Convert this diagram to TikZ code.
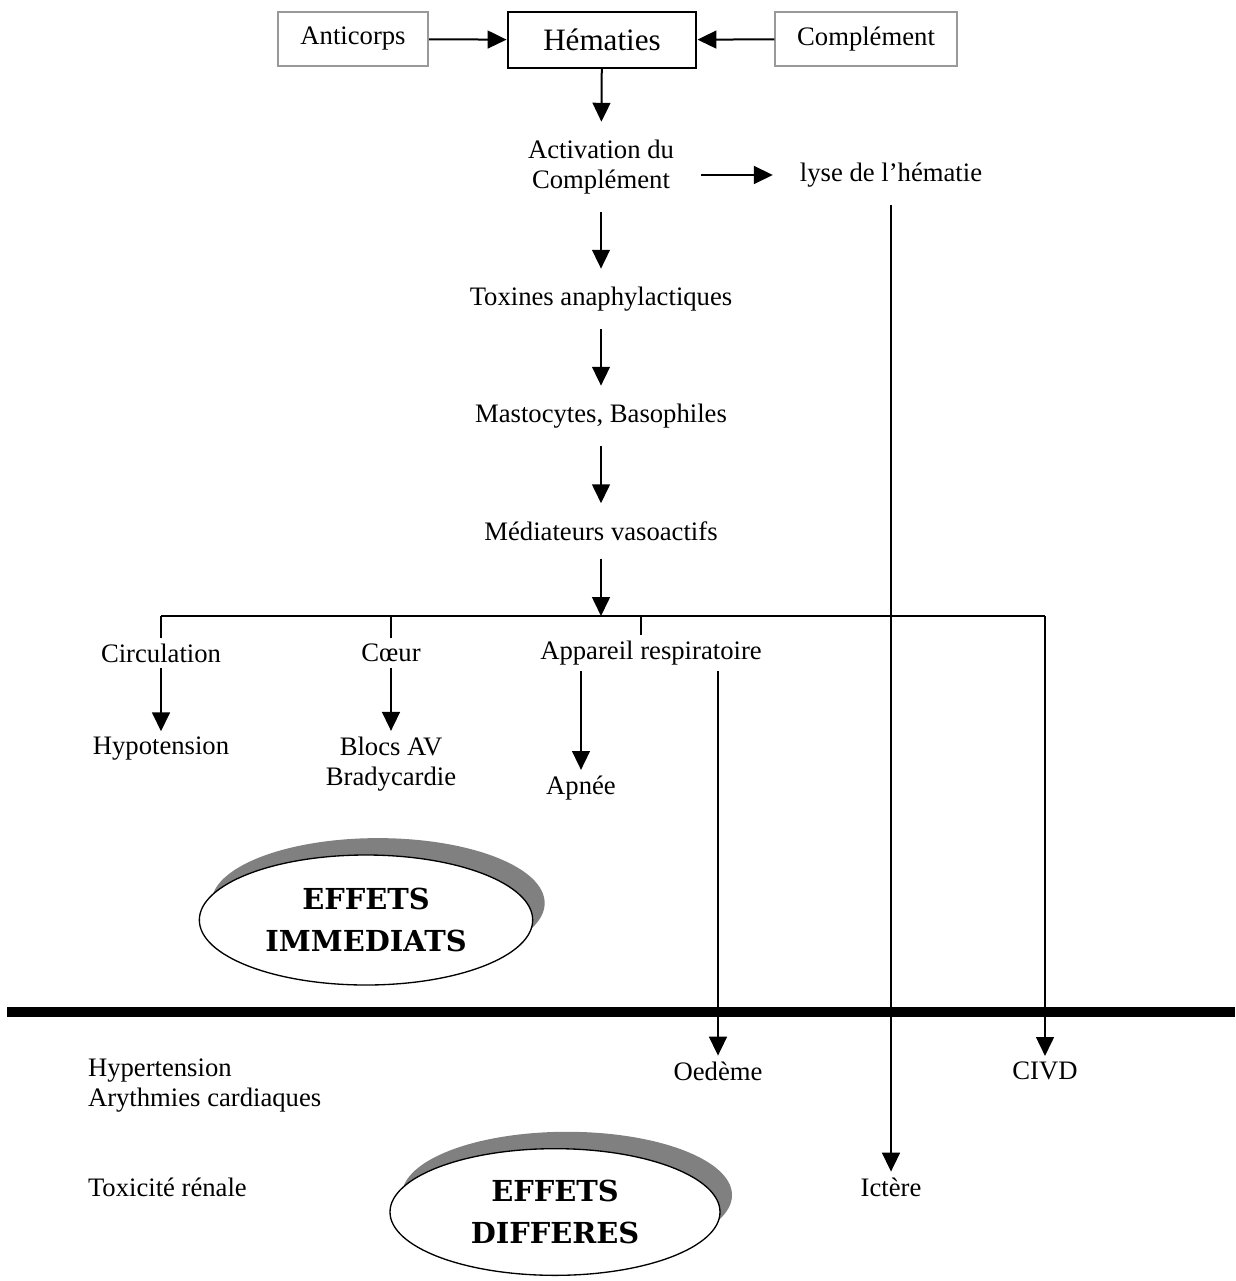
\documentclass[tikz,border=0pt]{standalone}
\usepackage{fontspec}
\setmainfont{Liberation Serif}
\newfontfamily\effetsfont{DejaVu Serif}
\usetikzlibrary{arrows.meta,shapes.geometric,shadows}
\tikzset{
  every node/.style={font=\fontsize{12}{13.5}\selectfont},
  flow/.style={inner xsep=12pt,inner ysep=8pt,align=center},
  organ/.style={inner sep=2.5pt,align=center},
  graybox/.style={draw=black!40,line width=0.9pt,minimum height=24.3pt},
  arr/.style={-{Triangle[length=8.5pt,width=8pt]},line width=0.9pt},
  effets/.style={ellipse,draw,fill=white,line width=0.6pt,align=center,
    font=\effetsfont\bfseries\fontsize{13}{18.5}\selectfont,
    drop shadow={shadow xshift=5.4pt,shadow yshift=7.6pt,fill=black!50,opacity=1}}
}
\begin{document}
\begin{tikzpicture}[line cap=butt,line join=miter,x=0.45pt,y=-0.45pt]
\useasboundingbox (0,0) rectangle (1235,1281);
\node[graybox,minimum width=67.5pt] (anti) at (353,39) {Anticorps};
\node[draw,line width=0.9pt,minimum width=85pt,minimum height=25.2pt,font=\fontsize{14}{16}\selectfont] (hem) at (602,40) {Hématies};
\node[graybox,minimum width=81.5pt] (compl) at (866,39) {Complément};
\node[flow] (act) at (601,167) {Activation du\\Complément};
\node[flow] (lyse) at (891,175) {lyse de l’hématie};
\node[flow] (tox) at (601,299) {Toxines anaphylactiques};
\node[flow] (masto) at (601,416) {Mastocytes, Basophiles};
\node[flow] (medi) at (601,531) {Médiateurs vasoactifs};
\coordinate (split) at (601,616);
\coordinate (rtick) at (641,616);
\node[organ] (circ) at (161,653) {Circulation};
\node[organ] (coeur) at (391,653) {Cœur};
\node[organ] (resp) at (651,653) {Appareil respiratoire};
\node[organ] (hypo) at (161,749) {Hypotension};
\node[organ] (blocs) at (391,764) {Blocs AV\\Bradycardie};
\node[organ] (apnee) at (581,788) {Apnée};
\node[effets,minimum width=150pt,minimum height=58.5pt] (imm) at (366,920) {EFFETS\\IMMEDIATS};
\coordinate (sepL) at (7,1012);
\coordinate (sepR) at (1235,1012);
\node[organ,anchor=west,align=left] (hyper) at (82,1086) {Hypertension\\Arythmies cardiaques};
\node[organ,anchor=west] (toxr) at (82,1187) {Toxicité rénale};
\node[organ] (oed) at (718,1071) {Oedème};
\node[organ] (civd) at (1045,1071) {CIVD};
\node[organ] (icter) at (891,1187) {Ictère};
\node[effets,minimum width=148.5pt,minimum height=57pt] (diff) at (555,1212) {EFFETS\\DIFFERES};
\draw[arr] (anti) -- (hem);
\draw[arr] (compl) -- (hem);
\draw[arr] (hem) -- (act);
\draw[arr] (lyse.west -| act.east) -- (lyse.west);
\draw[arr] (act) -- (tox);
\draw[arr] (tox) -- (masto);
\draw[arr] (masto) -- (medi);
\draw[arr] (medi) -- (split);
\draw[line width=0.9pt] (split -| circ) -- (split -| civd);
\draw[line width=0.9pt] (split -| circ) -- (circ);
\draw[line width=0.9pt] (split -| coeur) -- (coeur);
\draw[line width=0.9pt] (rtick) -- (rtick |- resp.north);
\draw[arr] (circ) -- (hypo);
\draw[arr] (coeur) -- (blocs);
\draw[arr] (resp.south -| apnee) -- (apnee);
\draw[line width=4.5pt] (sepL) -- (sepR);
\draw[arr] (resp.south -| oed) -- (oed);
\draw[arr] (split -| civd) -- (civd);
\draw[arr] (lyse) -- (icter);
\end{tikzpicture}
\end{document}
